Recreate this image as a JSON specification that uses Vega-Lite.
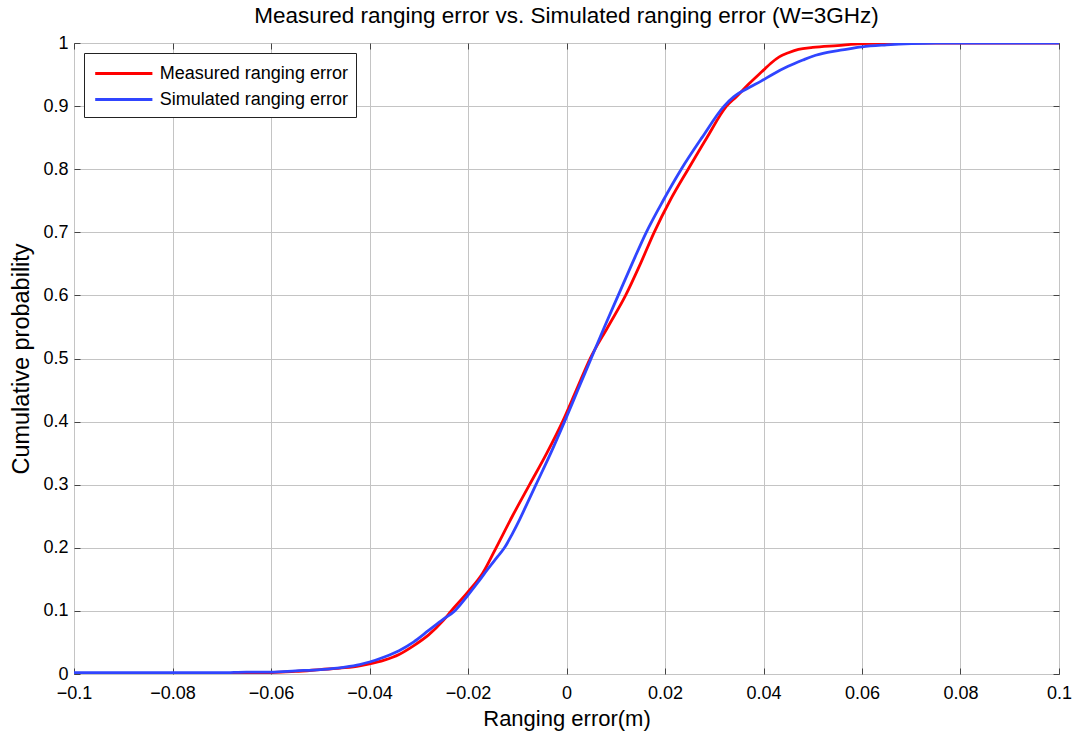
{
  "$schema": "https://vega.github.io/schema/vega-lite/v6.json",
  "width": 985,
  "height": 631,
  "autosize": {"type": "none"},
  "padding": {"left": 74, "top": 43, "right": 15, "bottom": 61},
  "background": "white",
  "title": {
    "text": "Measured ranging error vs. Simulated ranging error (W=3GHz)",
    "font": "Liberation Sans",
    "fontSize": 22.5,
    "fontWeight": "normal",
    "color": "#000000",
    "anchor": "middle",
    "offset": 7
  },
  "config": {
    "view": {"stroke": "#333333", "strokeWidth": 1},
    "axis": {
      "domain": false,
      "labelFont": "Liberation Sans",
      "labelFontSize": 18,
      "labelColor": "#000000",
      "titleFont": "Liberation Sans",
      "titleFontSize": 22,
      "titleFontWeight": "normal",
      "titleColor": "#000000",
      "tickColor": "#444444",
      "tickSize": -6,
      "tickWidth": 1,
      "gridColor": "#c4c4c4",
      "gridWidth": 1,
      "gridOpacity": 1
    }
  },
  "data": {
    "values": [
      {"series": "Measured ranging error", "x": -0.1, "p": 0},
      {"series": "Measured ranging error", "x": -0.061, "p": 0},
      {"series": "Measured ranging error", "x": -0.06, "p": 0.002},
      {"series": "Measured ranging error", "x": -0.055, "p": 0.004},
      {"series": "Measured ranging error", "x": -0.05, "p": 0.007},
      {"series": "Measured ranging error", "x": -0.045, "p": 0.01},
      {"series": "Measured ranging error", "x": -0.042, "p": 0.013},
      {"series": "Measured ranging error", "x": -0.04, "p": 0.016},
      {"series": "Measured ranging error", "x": -0.037, "p": 0.022},
      {"series": "Measured ranging error", "x": -0.034, "p": 0.031},
      {"series": "Measured ranging error", "x": -0.031, "p": 0.045},
      {"series": "Measured ranging error", "x": -0.028, "p": 0.062},
      {"series": "Measured ranging error", "x": -0.025, "p": 0.085},
      {"series": "Measured ranging error", "x": -0.0234, "p": 0.1},
      {"series": "Measured ranging error", "x": -0.02, "p": 0.13},
      {"series": "Measured ranging error", "x": -0.017, "p": 0.16},
      {"series": "Measured ranging error", "x": -0.0143, "p": 0.2},
      {"series": "Measured ranging error", "x": -0.011, "p": 0.25},
      {"series": "Measured ranging error", "x": -0.0075, "p": 0.3},
      {"series": "Measured ranging error", "x": -0.004, "p": 0.35},
      {"series": "Measured ranging error", "x": -0.0008, "p": 0.4},
      {"series": "Measured ranging error", "x": 0.002, "p": 0.45},
      {"series": "Measured ranging error", "x": 0.0048, "p": 0.5},
      {"series": "Measured ranging error", "x": 0.0084, "p": 0.55},
      {"series": "Measured ranging error", "x": 0.012, "p": 0.6},
      {"series": "Measured ranging error", "x": 0.015, "p": 0.65},
      {"series": "Measured ranging error", "x": 0.0178, "p": 0.7},
      {"series": "Measured ranging error", "x": 0.021, "p": 0.75},
      {"series": "Measured ranging error", "x": 0.0247, "p": 0.8},
      {"series": "Measured ranging error", "x": 0.0285, "p": 0.85},
      {"series": "Measured ranging error", "x": 0.0325, "p": 0.9},
      {"series": "Measured ranging error", "x": 0.0345, "p": 0.915},
      {"series": "Measured ranging error", "x": 0.037, "p": 0.935},
      {"series": "Measured ranging error", "x": 0.04, "p": 0.957},
      {"series": "Measured ranging error", "x": 0.0415, "p": 0.968},
      {"series": "Measured ranging error", "x": 0.0432, "p": 0.978},
      {"series": "Measured ranging error", "x": 0.0452, "p": 0.985},
      {"series": "Measured ranging error", "x": 0.0471, "p": 0.99},
      {"series": "Measured ranging error", "x": 0.05, "p": 0.993},
      {"series": "Measured ranging error", "x": 0.055, "p": 0.996},
      {"series": "Measured ranging error", "x": 0.06, "p": 0.999},
      {"series": "Measured ranging error", "x": 0.065, "p": 1.0},
      {"series": "Measured ranging error", "x": 0.1, "p": 1.0},
      {"series": "Simulated ranging error", "x": -0.1, "p": 0.002},
      {"series": "Simulated ranging error", "x": -0.08, "p": 0.002},
      {"series": "Simulated ranging error", "x": -0.07, "p": 0.002},
      {"series": "Simulated ranging error", "x": -0.065, "p": 0.003},
      {"series": "Simulated ranging error", "x": -0.06, "p": 0.003},
      {"series": "Simulated ranging error", "x": -0.055, "p": 0.005},
      {"series": "Simulated ranging error", "x": -0.05, "p": 0.007},
      {"series": "Simulated ranging error", "x": -0.045, "p": 0.011},
      {"series": "Simulated ranging error", "x": -0.042, "p": 0.015},
      {"series": "Simulated ranging error", "x": -0.04, "p": 0.019},
      {"series": "Simulated ranging error", "x": -0.037, "p": 0.027},
      {"series": "Simulated ranging error", "x": -0.034, "p": 0.037},
      {"series": "Simulated ranging error", "x": -0.031, "p": 0.051},
      {"series": "Simulated ranging error", "x": -0.028, "p": 0.069},
      {"series": "Simulated ranging error", "x": -0.025, "p": 0.087},
      {"series": "Simulated ranging error", "x": -0.0227, "p": 0.1},
      {"series": "Simulated ranging error", "x": -0.02, "p": 0.125},
      {"series": "Simulated ranging error", "x": -0.018, "p": 0.145},
      {"series": "Simulated ranging error", "x": -0.016, "p": 0.166},
      {"series": "Simulated ranging error", "x": -0.014, "p": 0.186},
      {"series": "Simulated ranging error", "x": -0.0126, "p": 0.2},
      {"series": "Simulated ranging error", "x": -0.011, "p": 0.222},
      {"series": "Simulated ranging error", "x": -0.0095, "p": 0.245},
      {"series": "Simulated ranging error", "x": -0.008, "p": 0.27},
      {"series": "Simulated ranging error", "x": -0.0062, "p": 0.3},
      {"series": "Simulated ranging error", "x": -0.0032, "p": 0.35},
      {"series": "Simulated ranging error", "x": -0.0004, "p": 0.4},
      {"series": "Simulated ranging error", "x": 0.0023, "p": 0.45},
      {"series": "Simulated ranging error", "x": 0.005, "p": 0.5},
      {"series": "Simulated ranging error", "x": 0.0077, "p": 0.55},
      {"series": "Simulated ranging error", "x": 0.0105, "p": 0.6},
      {"series": "Simulated ranging error", "x": 0.0133, "p": 0.65},
      {"series": "Simulated ranging error", "x": 0.0162, "p": 0.7},
      {"series": "Simulated ranging error", "x": 0.0196, "p": 0.75},
      {"series": "Simulated ranging error", "x": 0.0233, "p": 0.8},
      {"series": "Simulated ranging error", "x": 0.0275, "p": 0.85},
      {"series": "Simulated ranging error", "x": 0.032, "p": 0.9},
      {"series": "Simulated ranging error", "x": 0.034, "p": 0.915},
      {"series": "Simulated ranging error", "x": 0.037, "p": 0.929},
      {"series": "Simulated ranging error", "x": 0.0396, "p": 0.94},
      {"series": "Simulated ranging error", "x": 0.042, "p": 0.951},
      {"series": "Simulated ranging error", "x": 0.045, "p": 0.963},
      {"series": "Simulated ranging error", "x": 0.048, "p": 0.973},
      {"series": "Simulated ranging error", "x": 0.05, "p": 0.979},
      {"series": "Simulated ranging error", "x": 0.053, "p": 0.985},
      {"series": "Simulated ranging error", "x": 0.056, "p": 0.989},
      {"series": "Simulated ranging error", "x": 0.06, "p": 0.994},
      {"series": "Simulated ranging error", "x": 0.065, "p": 0.997},
      {"series": "Simulated ranging error", "x": 0.07, "p": 0.999},
      {"series": "Simulated ranging error", "x": 0.075, "p": 1.0},
      {"series": "Simulated ranging error", "x": 0.1, "p": 1.0}
    ]
  },
  "layer": [
    {
      "mark": {"type": "line", "strokeWidth": 2.8, "clip": true, "interpolate": "monotone"},
      "encoding": {
        "x": {
          "field": "x",
          "type": "quantitative",
          "scale": {"domain": [-0.1, 0.1], "nice": false, "zero": false},
          "axis": {
            "orient": "bottom",
            "values": [-0.1, -0.08, -0.06, -0.04, -0.02, 0, 0.02, 0.04, 0.06, 0.08, 0.1],
            "format": ".2~f",
            "labelPadding": 16,
            "labelFlush": false,
            "title": "Ranging error(m)",
            "titlePadding": 6
          }
        },
        "y": {
          "field": "p",
          "type": "quantitative",
          "scale": {"domain": [0, 1], "nice": false},
          "axis": {
            "orient": "left",
            "values": [0, 0.1, 0.2, 0.3, 0.4, 0.5, 0.6, 0.7, 0.8, 0.9, 1],
            "format": ".1~f",
            "labelPadding": 12,
            "labelFlush": false,
            "title": "Cumulative probability",
            "titleFontSize": 23.5,
            "titlePadding": 9
          }
        },
        "color": {
          "field": "series",
          "type": "nominal",
          "scale": {
            "domain": ["Measured ranging error", "Simulated ranging error"],
            "range": ["#ff0000", "#3045ff"]
          },
          "legend": {
            "title": null,
            "orient": "none",
            "legendX": 10,
            "legendY": 10,
            "fillColor": "#ffffff",
            "strokeColor": "#222222",
            "padding": 8,
            "cornerRadius": 0,
            "symbolType": "M-2.6,0H2.6",
            "symbolSize": 484,
            "symbolOffset": 19.3,
            "symbolStrokeWidth": 2.8,
            "labelFont": "Liberation Sans",
            "labelFontSize": 18,
            "labelColor": "#000000",
            "labelOffset": 23.5,
            "labelLimit": 0,
            "rowPadding": 4
          }
        }
      }
    },
    {
      "mark": {"type": "line", "strokeOpacity": 0},
      "encoding": {
        "x": {
          "field": "x",
          "type": "quantitative",
          "axis": {
            "orient": "top",
            "values": [-0.1, -0.08, -0.06, -0.04, -0.02, 0, 0.02, 0.04, 0.06, 0.08, 0.1],
            "labels": false,
            "grid": false,
            "title": null
          }
        },
        "y": {
          "field": "p",
          "type": "quantitative",
          "axis": {
            "orient": "right",
            "values": [0, 0.1, 0.2, 0.3, 0.4, 0.5, 0.6, 0.7, 0.8, 0.9, 1],
            "labels": false,
            "grid": false,
            "title": null
          }
        },
        "detail": {"field": "series", "type": "nominal"}
      }
    }
  ],
  "resolve": {"axis": {"x": "independent", "y": "independent"}}
}
